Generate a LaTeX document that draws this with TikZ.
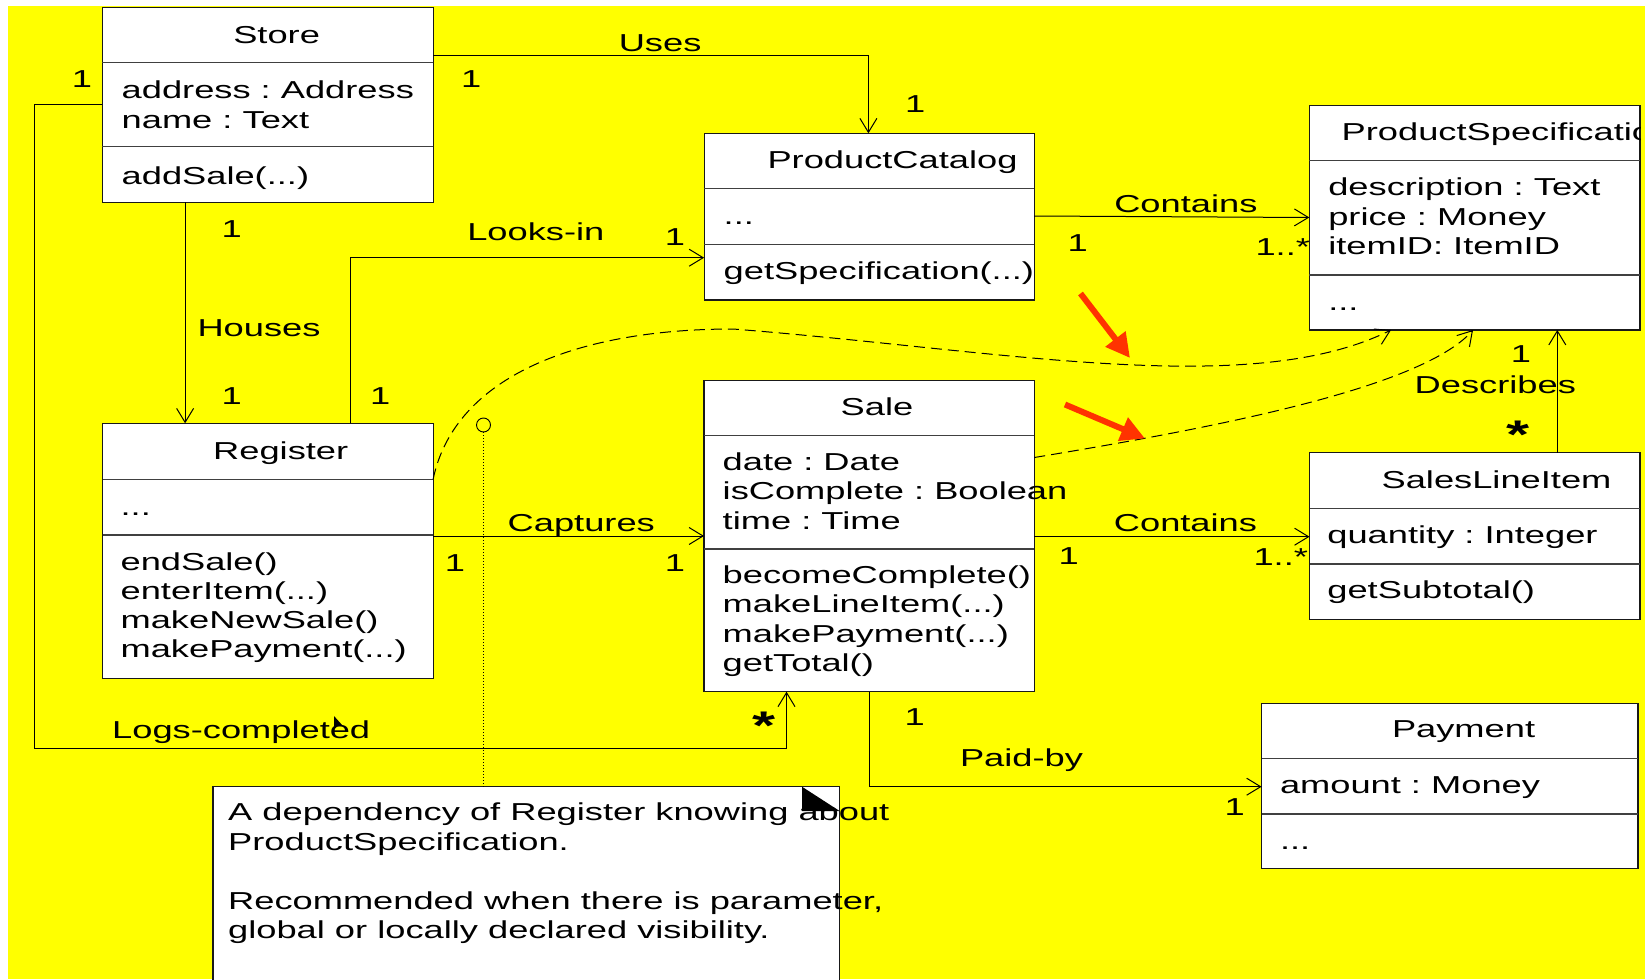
\documentclass[tikz,border=0pt]{standalone}
\usepackage{fontspec}
\setmainfont{Liberation Sans}[FakeStretch=1.48]
\usetikzlibrary{arrows.meta}
\definecolor{bgyellow}{RGB}{255,255,0}
\definecolor{hint}{RGB}{255,51,0}
\frenchspacing
\begin{document}
\begin{tikzpicture}[x=1pt,y=-1pt,
  every node/.style={inner sep=0pt, outer sep=0pt, font=\fontsize{24.5}{29.5}\selectfont},
  classbox/.style={draw=black!90, fill=white, line width=1.2pt, anchor=north west},
  divider/.style={draw=black!75, line width=1.4pt},
  txt/.style={anchor=base west},
  manystar/.style={anchor=base, font=\fontsize{40}{40}\selectfont\bfseries},
  assoc/.style={draw=black, line width=1pt, -{Straight Barb[length=14pt,width=17pt,line width=1pt]}},
  depend/.style={draw=black, line width=1pt, dash pattern=on 11pt off 6pt, -{Straight Barb[length=14pt,width=17pt,line width=1pt]}},
  notelink/.style={draw=black, line width=0.8pt, dash pattern=on 1pt off 2pt},
  hintarrow/.style={draw=hint, line width=6pt, -{Triangle[length=24pt,width=24pt,fill=hint]}}
]
\useasboundingbox (0,0) rectangle (1645,979);
\fill[white] (0,0) rectangle (1645,979);
\fill[bgyellow] (8,6) rectangle (1645,979);

% ---------- Store ----------
\node[classbox, minimum width=331, minimum height=195] (store) at (102.3,7.3) {};
\draw[divider] (102.3,62.7) -- (433.3,62.7);
\draw[divider] (102.3,146.7) -- (433.3,146.7);
\node[txt] (store-t) at (233.3,43.3) {Store};
\node[txt] (store-a1) at (121.7,98.3) {address : Address};
\node[txt] (store-a2) at (121.7,128.3) {name : Text};
\node[txt] (store-m1) at (121.7,184) {addSale(...)};

% ---------- ProductCatalog ----------
\node[classbox, minimum width=330.1, minimum height=166.7] (catalog) at (704.1,133.3) {};
\draw[divider] (704.1,188.3) -- (1034.2,188.3);
\draw[divider] (704.1,244.3) -- (1034.2,244.3);
\node[txt] (catalog-t) at (767.5,168.3) {ProductCatalog};
\node[txt] (catalog-a1) at (723.7,224.3) {...};
\node[txt] (catalog-m1) at (723.7,279.5) {getSpecification(...)};

% ---------- ProductSpecification ----------
\node[classbox, minimum width=330.7, minimum height=224.3] (prodspec) at (1309.3,105.7) {};
\draw[divider] (1309.3,160.7) -- (1640,160.7);
\draw[divider] (1309.3,275) -- (1640,275);
\begin{scope}
  \clip (1309.3,105.7) rectangle (1640,160.7);
  \node[txt] (prodspec-t) at (1341.7,140.7) {ProductSpecification};
\end{scope}
\node[txt] (prodspec-a1) at (1328.3,195) {description : Text};
\node[txt] (prodspec-a2) at (1328.3,225) {price : Money};
\node[txt] (prodspec-a3) at (1328.3,254.3) {itemID: ItemID};
\node[txt] (prodspec-m1) at (1328.3,310) {...};

% ---------- Register ----------
\node[classbox, minimum width=330.4, minimum height=255] (register) at (102.7,423.3) {};
\draw[divider] (102.7,479.3) -- (433.1,479.3);
\draw[divider] (102.7,535) -- (433.1,535);
\node[txt] (register-t) at (213.2,459) {Register};
\node[txt] (register-a1) at (120.6,515.3) {...};
\node[txt] (register-m1) at (120.6,570) {endSale()};
\node[txt] (register-m2) at (120.6,599.3) {enterItem(...)};
\node[txt] (register-m3) at (120.6,628.3) {makeNewSale()};
\node[txt] (register-m4) at (120.6,657.7) {makePayment(...)};

% ---------- Sale ----------
\node[classbox, minimum width=330.3, minimum height=311] (sale) at (704,380.7) {};
\draw[divider] (704,435.7) -- (1034.3,435.7);
\draw[divider] (704,549) -- (1034.3,549);
\node[txt] (sale-t) at (840.7,415) {Sale};
\node[txt] (sale-a1) at (722.7,470) {date : Date};
\node[txt] (sale-a2) at (722.7,499.3) {isComplete : Boolean};
\node[txt] (sale-a3) at (722.7,529.3) {time : Time};
\node[txt] (sale-m1) at (722.7,583.3) {becomeComplete()};
\node[txt] (sale-m2) at (722.7,612.7) {makeLineItem(...)};
\node[txt] (sale-m3) at (722.7,642.7) {makePayment(...)};
\node[txt] (sale-m4) at (722.7,671.7) {getTotal()};

% ---------- SalesLineItem ----------
\node[classbox, minimum width=330.5, minimum height=166.6] (sli) at (1309.5,452.7) {};
\draw[divider] (1309.5,508.3) -- (1640,508.3);
\draw[divider] (1309.5,564) -- (1640,564);
\node[txt] (sli-t) at (1381.6,488.3) {SalesLineItem};
\node[txt] (sli-a1) at (1327.4,543.3) {quantity : Integer};
\node[txt] (sli-m1) at (1327.4,598.3) {getSubtotal()};

% ---------- Payment ----------
\node[classbox, minimum width=376.4, minimum height=165.3] (payment) at (1261.6,703.3) {};
\draw[divider] (1261.6,758.3) -- (1638,758.3);
\draw[divider] (1261.6,814) -- (1638,814);
\node[txt] (payment-t) at (1392,737.7) {Payment};
\node[txt] (payment-a1) at (1280,793.3) {amount : Money};
\node[txt] (payment-m1) at (1280,849) {...};

% ---------- associations ----------
\draw[assoc] (store.east |- 0,56) -| (catalog.north -| 868.4,0);
\node[txt] (uses) at (618.8,51.7) {Uses};
\node[txt] (uses-m1) at (461,87.3) {1};
\node[txt] (uses-m2) at (905,112.7) {1};

\draw[assoc] (store.south -| 185.1,0) -- (register.north -| 185.1,0);
\node[txt] (houses) at (197.5,336) {Houses};
\node[txt] (houses-m1) at (221.6,237.3) {1};
\node[txt] (houses-m2) at (221.6,404) {1};

\draw[assoc] (register.north -| 350,0) |- (catalog.west |- 0,257.7);
\node[txt] (looks) at (467.3,240) {Looks-in};
\node[txt] (looks-m1) at (370,404) {1};
\node[txt] (looks-m2) at (664.8,245) {1};

\draw[assoc] (catalog.east |- 0,216) -- (prodspec.west |- 0,217.5);
\node[txt] (contains1) at (1114.3,212.3) {Contains};
\node[txt] (contains1-m1) at (1067.7,251.7) {1};
\node[txt] (contains1-m2) at (1255.5,255) {1..*};

\draw[assoc] (register.east |- 0,536) -- (sale.west |- 0,536);
\node[txt] (captures) at (507.7,531.7) {Captures};
\node[txt] (captures-m1) at (444.9,571.7) {1};
\node[txt] (captures-m2) at (664.8,571.7) {1};

\draw[assoc] (sale.east |- 0,536.7) -- (sli.west |- 0,536.7);
\node[txt] (contains2) at (1113.9,531.7) {Contains};
\node[txt] (contains2-m1) at (1058.5,564) {1};
\node[txt] (contains2-m2) at (1253.5,565) {1..*};

\coordinate (logscorner) at (34.8,748.3);
\draw[assoc] (store.west |- 0,105) -| (logscorner) -| (sale.south -| 786.5,0);
\node[txt] (logs) at (112.2,738.3) {Logs-completed};
\node[txt] (logs-m1) at (71.8,87.3) {1};
\node[manystar] (logs-m2) at (763.8,739) {*};
% pointer glyph resting on the label
\fill[black] (334,716) -- (334,729) -- (337,726) -- (343,726) -- cycle;

\draw[assoc] (sale.south -| 869,0) |- (payment.west |- 0,786.7);
\node[txt] (paid) at (960,766.7) {Paid-by};
\node[txt] (paid-m1) at (904.6,725) {1};
\node[txt] (paid-m2) at (1224.6,815) {1};

\draw[assoc] (sli.north -| 1557.3,0) -- (prodspec.south -| 1557.3,0);
\node[txt] (describes) at (1414.7,393.3) {Describes};
\node[txt] (describes-m1) at (1510.8,362.7) {1};
\node[manystar] (describes-m2) at (1518,448) {*};

% ---------- dependencies ----------
\draw[depend] (register.east |- 0,479.3) .. controls (455,375) and (580,329) .. (733,329)
  .. controls (1000,350) and (1250,400) .. (prodspec.south -| 1391,0);
\draw[depend] (sale.east |- 0,457.5) .. controls (1200,430) and (1420,390) .. (prodspec.south -| 1473,0);

% ---------- note ----------
\node[classbox, minimum width=626.6, minimum height=200] (note) at (213,786.7) {};
\fill[black] (802,786.7) -- (839.6,811) -- (802,811) -- cycle;
\node[txt] (note-l1) at (228.2,820) {A dependency of Register knowing about};
\node[txt] (note-l2) at (228.2,850) {ProductSpecification.};
\node[txt] (note-l3) at (228.2,909.3) {Recommended when there is parameter,};
\node[txt] (note-l4) at (228.2,938.3) {global or locally declared visibility.};
\node[circle, draw=black, line width=0.9pt, minimum size=14] (noteanchor) at (483.5,425) {};
\draw[notelink] (noteanchor.south) -- (note.north -| noteanchor.south);

% ---------- highlight arrows ----------
\coordinate (hintA0) at (1080.5,293.5);
\coordinate (hintA1) at (1130,358);
\draw[hintarrow] (hintA0) -- (hintA1);
\coordinate (hintB0) at (1065,404.5);
\coordinate (hintB1) at (1145,438.5);
\draw[hintarrow] (hintB0) -- (hintB1);
\end{tikzpicture}
\end{document}
